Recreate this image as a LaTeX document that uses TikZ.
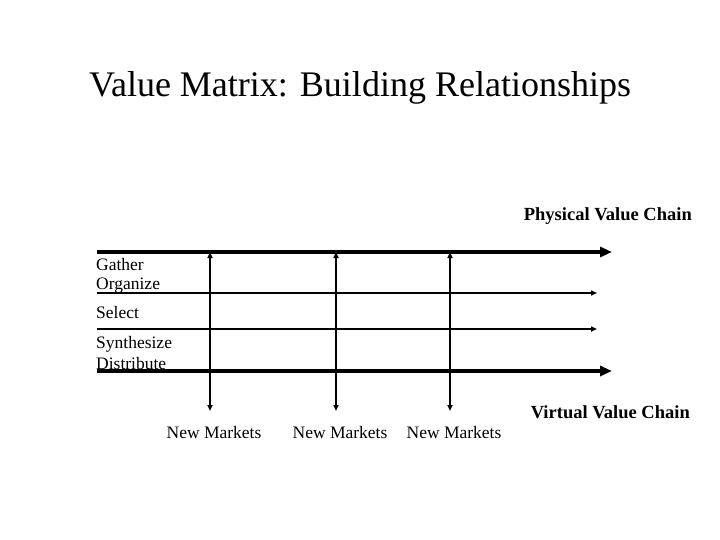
\documentclass[tikz,border=0pt]{standalone}
\usepackage{fontspec}
\setmainfont{Liberation Serif}
\usetikzlibrary{arrows.meta}
\begin{document}
\begin{tikzpicture}[x=1pt,y=-1pt,
  thickarr/.style={line width=3.5pt,-{Triangle[length=12pt,width=10pt]}},
  thinarr/.style={line width=1.6pt,-{Triangle[length=6pt,width=5pt]}},
  vertarr/.style={line width=1.6pt,{Triangle[length=6pt,width=5pt]}-{Triangle[length=6pt,width=5pt]}},
  lbl/.style={anchor=west,inner sep=0pt,font=\fontsize{17.5}{20}\selectfont},
  blbl/.style={inner sep=0pt,font=\bfseries\fontsize{18.5}{21}\selectfont}]
\useasboundingbox (0,0) rectangle (720,540);
\node[inner sep=0pt,font=\fontsize{36}{40}\selectfont] (title) at (360,88) {Value Matrix: Building Relationships};
\node[blbl,anchor=east] (pvc) at (692,216) {Physical Value Chain};
\node[blbl,anchor=east] (vvc) at (690,412) {Virtual Value Chain};
\coordinate (t1) at (97,252); \coordinate (t2) at (612,252);
\coordinate (a1) at (97,293); \coordinate (a2) at (597,293);
\coordinate (b1) at (97,329); \coordinate (b2) at (597,329);
\coordinate (c1) at (97,371); \coordinate (c2) at (612,371);
\draw[thickarr] (t1) -- (t2);
\draw[thinarr] (a1) -- (a2);
\draw[thinarr] (b1) -- (b2);
\draw[thickarr] (c1) -- (c2);
\foreach \x/\n in {210/1,336/2,450/3}{
  \coordinate (u\n) at (\x,252); \coordinate (d\n) at (\x,411);
  \draw[vertarr] (d\n) -- (u\n);
  \node[lbl,anchor=north] (m\n) at (\x+4,426) {New Markets};
}
\node[lbl] (g) at (96,265) {Gather};
\node[lbl] (o) at (96,286) {Organize};
\node[lbl] (s) at (96,313) {Select};
\node[lbl] (sy) at (96,344) {Synthesize};
\node[lbl] (di) at (96,364) {Distribute};
\end{tikzpicture}
\end{document}
